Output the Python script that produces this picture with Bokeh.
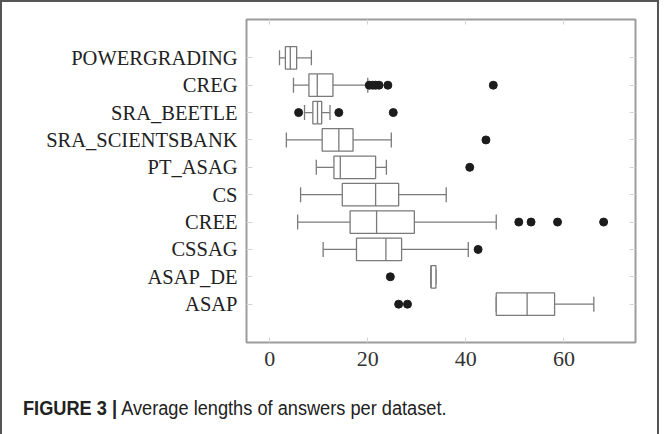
from bokeh.plotting import figure
from bokeh.models import ColumnDataSource, FixedTicker, LinearAxis, Range1d, Div
from bokeh.layouts import column
from bokeh.embed import file_html
from bokeh.resources import INLINE

# ---- data ----
datasets = ["POWERGRADING", "CREG", "SRA_BEETLE", "SRA_SCIENTSBANK", "PT_ASAG",
            "CS", "CREE", "CSSAG", "ASAP_DE", "ASAP"]
lower_whisker = [2.0, 4.85, 7.1, 3.4, 9.5, 6.3, 5.7, 10.9, 32.9, 46.2]
q1 = [3.2, 8.0, 8.8, 10.7, 13.1, 14.8, 16.4, 17.7, 32.9, 46.2]
median = [4.2, 9.7, 9.75, 14.1, 14.4, 21.6, 21.8, 23.7, 32.9, 52.5]
q3 = [5.5, 12.9, 10.6, 17.0, 21.6, 26.3, 29.5, 26.9, 33.9, 58.1]
upper_whisker = [8.5, 20.0, 12.3, 24.8, 23.8, 36.0, 46.2, 40.5, 33.9, 66.1]

outlier_dataset = ["CREG", "CREG", "CREG", "CREG", "CREG", "CREG",
                   "SRA_BEETLE", "SRA_BEETLE", "SRA_BEETLE",
                   "SRA_SCIENTSBANK", "PT_ASAG",
                   "CREE", "CREE", "CREE", "CREE",
                   "CSSAG", "ASAP_DE", "ASAP", "ASAP"]
outlier_value = [20.3, 21.0, 21.6, 22.3, 24.1, 45.6,
                 5.9, 14.1, 25.2,
                 44.1, 40.8,
                 50.8, 53.3, 58.7, 68.1,
                 42.5, 24.6, 26.3, 28.1]

x_ticks = [0, 20, 40, 60]

# ---- derived sources ----
pos = list(range(len(datasets)))
BOX_H = 0.82
CAP_H = 0.55
src = ColumnDataSource(dict(
    y=pos, lw=lower_whisker, q1=q1, med=median, q3=q3, uw=upper_whisker,
    y_box0=[v - BOX_H / 2 for v in pos], y_box1=[v + BOX_H / 2 for v in pos],
    y_cap0=[v - CAP_H / 2 for v in pos], y_cap1=[v + CAP_H / 2 for v in pos],
))
out_src = ColumnDataSource(dict(
    x=outlier_value, y=[datasets.index(d) for d in outlier_dataset]))

p = figure(width=645, height=378,
           x_range=Range1d(-4.73, 74.6), y_range=Range1d(10.4, -1.4),
           output_backend="svg", toolbar_location=None,
           min_border_left=244, min_border_right=12,
           min_border_top=17, min_border_bottom=38)
p.xgrid.visible = False
p.ygrid.visible = False
p.outline_line_color = "#9c9c9c"
p.outline_line_width = 2
p.background_fill_color = "white"
p.border_fill_color = "white"

line_col = "#7a7a7a"
# whiskers
p.segment(x0="lw", x1="q1", y0="y", y1="y", source=src, line_color=line_col, line_width=1.3)
p.segment(x0="q3", x1="uw", y0="y", y1="y", source=src, line_color=line_col, line_width=1.3)
p.segment(x0="lw", x1="lw", y0="y_cap0", y1="y_cap1", source=src, line_color=line_col, line_width=1.3)
p.segment(x0="uw", x1="uw", y0="y_cap0", y1="y_cap1", source=src, line_color=line_col, line_width=1.3)
# boxes
p.hbar(y="y", left="q1", right="q3", height=BOX_H, source=src,
       fill_color="white", line_color=line_col, line_width=1.3)
p.segment(x0="med", x1="med", y0="y_box0", y1="y_box1", source=src,
          line_color=line_col, line_width=1.3)
# outliers
p.scatter(x="x", y="y", source=out_src, size=8, fill_color="#1c1c1c", line_color="#1c1c1c")

tick_col = "#d5d5d5"
# bottom axis
xa = p.xaxis[0]
xa.ticker = FixedTicker(ticks=x_ticks)
xa.axis_line_color = None
xa.major_tick_in = 5
xa.major_tick_out = 0
xa.major_tick_line_color = tick_col
xa.minor_tick_line_color = None
xa.major_label_text_font = "Liberation Serif"
xa.major_label_text_font_size = "22px"
xa.major_label_text_color = "#333333"
xa.major_label_standoff = 9

# left axis with dataset names
ya = p.yaxis[0]
ya.ticker = FixedTicker(ticks=pos)
ya.major_label_overrides = {i: name for i, name in zip(pos, datasets)}
ya.axis_line_color = None
ya.major_tick_in = 6
ya.major_tick_out = 0
ya.major_tick_line_color = tick_col
ya.minor_tick_line_color = None
ya.major_label_text_font = "Liberation Serif"
ya.major_label_text_font_size = "20.5px"
ya.major_label_text_color = "#222222"
ya.major_label_standoff = 9

# mirrored ticks (top / right), no labels
top = LinearAxis(ticker=FixedTicker(ticks=x_ticks), axis_line_color=None,
                 major_tick_in=5, major_tick_out=0, major_tick_line_color=tick_col,
                 minor_tick_line_color=None, major_label_text_color=None,
                 major_label_standoff=0)
p.add_layout(top, "above")
right = LinearAxis(ticker=FixedTicker(ticks=pos), axis_line_color=None,
                   major_tick_in=6, major_tick_out=0, major_tick_line_color=tick_col,
                   minor_tick_line_color=None, major_label_text_color=None,
                   major_label_standoff=0)
p.add_layout(right, "right")

caption = Div(
    text=('<span style="display:inline-block; white-space:nowrap; '
          'transform:scaleX(0.91); transform-origin:left center;">'
          '<b>FIGURE 3 |</b> Average lengths of answers per dataset.</span>'),
    width=645, height=44,
    styles={"font-family": "'Liberation Sans', sans-serif",
            "font-size": "20px", "color": "#222222",
            "padding-left": "16px", "padding-top": "9px", "box-sizing": "border-box"})

layout = column(p, caption,
                styles={"border-left": "2px solid #555555",
                        "border-top": "2px solid #555555",
                        "border-right": "2px solid #555555",
                        "background-color": "white"})

open("out.html", "w").write(file_html(layout, INLINE))
